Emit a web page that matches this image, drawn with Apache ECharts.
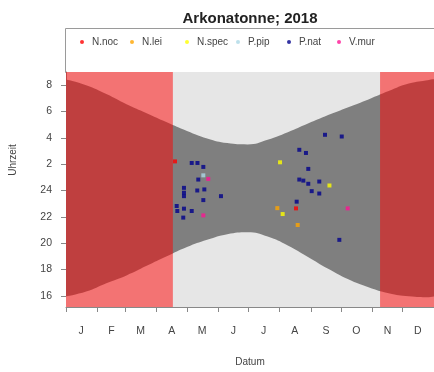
<!DOCTYPE html>
<html><head><meta charset="utf-8">
<script src="https://cdn.jsdelivr.net/npm/echarts@6/dist/echarts.min.js"></script>
<style>html,body{margin:0;padding:0;background:#fff}#c{width:434px;height:372px}</style>
</head><body><div id="c"></div>
<script>
// ---- data ----
const monthStarts = [0,31,59,90,120,151,181,212,243,273,304,334];
const monthMids = [15,45,74,105,135,166,196,227,258,288,319,349];
const monthLabels = ['J','F','M','A','M','J','J','A','S','O','N','D'];
const hourTicks = [16,18,20,22,24,26,28,30,32];
// day of year and clock time of sunset / sunrise (night band edges)
const bandDays = [0,20,40,60,80,100,120,140,160,180,200,220,240,260,280,300,320,340,360,365];
const sunset  = [15.95,16.32,16.95,17.55,18.28,19.00,19.70,20.25,20.68,20.83,20.50,19.82,18.95,18.05,17.25,16.65,16.20,15.97,15.90,15.95];
const sunrise = [8.43,8.00,7.32,6.55,5.87,5.18,4.52,3.95,3.60,3.50,3.85,4.42,5.08,5.73,6.33,6.92,7.55,8.12,8.40,8.44];
// periods without recording (red)
const offPeriods = [[0,106],[311.5,365]];
// detections: [day of year, clock time]
const nNoc  = [[108.1,2.21],[228.1,22.64]];
const nLei  = [[209.6,22.66],[229.8,21.38]];
const nSpec = [[212.3,2.14],[214.9,22.21],[261.3,0.38]];
const pPip  = [[136.2,1.15]];
const pNat  = [[124.7,2.09],[130.4,2.09],[136.2,1.79],[131.2,0.83],[117.0,0.20],[117.0,23.83],[117.0,23.57],
               [130.2,0.0],[137.2,0.08],[136.2,23.27],[153.7,23.57],[109.8,22.82],[117.0,22.62],[124.7,22.44],
               [110.4,22.44],[116.3,21.94],[256.9,4.23],[273.5,4.10],[231.4,3.09],[238.0,2.85],[240.3,1.64],
               [231.4,0.83],[235.4,0.75],[240.3,0.51],[251.2,0.68],[243.7,23.95],[251.2,23.77],[228.8,23.15],[271.1,20.25]];
const vMur  = [[141.1,0.88],[136.2,22.11],[279.4,22.64]];

const speciesNames = ['N.noc','N.lei','N.spec','P.pip','P.nat','V.mur'];
const speciesData = [nNoc,nLei,nSpec,pPip,pNat,vMur];
const speciesColors = ['#ff0000','#ffa500','#ffff00','#add8e6','#00008b','#ff1493'];
const legendX = [80,130,185,236,287,337];

// ---- chart ----
const Y_MIN = 15.15, Y_MAX = 33;
const toAxis = h => (h < 12 ? h + 24 : h);
const FONT = '"Liberation Sans", Arial, sans-serif';

const series = [];
// night band: gray area under sunrise line, then day-colored area under sunset line
series.push({type:'line', z:1, smooth:0.5, symbol:'none', silent:true,
  data: bandDays.map((d,i)=>[d, toAxis(sunrise[i])]),
  lineStyle:{width:0}, areaStyle:{color:'#7f7f7f', opacity:1, origin:'start'}});
series.push({type:'line', z:2, smooth:0.5, symbol:'none', silent:true,
  data: bandDays.map((d,i)=>[d, sunset[i]]),
  lineStyle:{width:0}, areaStyle:{color:'#e6e6e6', opacity:1, origin:'start'}});
offPeriods.forEach(p=>{
  series.push({type:'line', z:3, symbol:'none', silent:true,
    data:[[p[0],Y_MAX],[p[1],Y_MAX]],
    lineStyle:{width:0}, areaStyle:{color:'rgba(255,0,0,0.5)', opacity:1, origin:'start'}});
});
speciesNames.forEach((n,i)=>{
  series.push({type:'scatter', name:n, z:5, symbol:'rect', symbolSize:4,
    itemStyle:{color:speciesColors[i]},
    data: speciesData[i].map(p=>[p[0], toAxis(p[1])])});
});

const legends = speciesNames.map((n,i)=>({
  data:[n], left:legendX[i], top:37, padding:0, icon:'circle',
  itemWidth:10, itemHeight:4, itemGap:0, selectedMode:false,
  textStyle:{fontSize:10, color:'#444', fontFamily:FONT, padding:[0,0,0,0]}
}));

const chart = echarts.init(document.getElementById('c'), null, {renderer:'canvas'});
chart.setOption({
  animation:false,
  title:{text:'Arkonatonne; 2018', left:245, top:6, textAlign:'center',
    textStyle:{fontSize:15, fontWeight:'bold', color:'#222', fontFamily:FONT}},
  legend: legends,
  graphic:[
    {type:'rect', shape:{x:65.5,y:28.5,width:400,height:44}, style:{fill:'none', stroke:'#9a9a9a', lineWidth:1}, z:-1},
    {type:'text', x:13, y:160, rotation:Math.PI/2,
      style:{text:'Uhrzeit', fontSize:10, fill:'#444', fontFamily:FONT, align:'center', verticalAlign:'middle'}}
  ],
  grid:{left:66, right:0, top:72, bottom:64, show:true, backgroundColor:'#e6e6e6', borderWidth:0},
  xAxis:{type:'value', min:0, max:365,
    name:'Datum', nameLocation:'middle', nameGap:50,
    nameTextStyle:{fontSize:10, color:'#444', fontFamily:FONT},
    axisLine:{show:true, onZero:false, lineStyle:{color:'#888'}},
    axisTick:{show:true, length:5, customValues:monthStarts, lineStyle:{color:'#888'}},
    axisLabel:{customValues:monthMids, margin:19, fontSize:10.5, color:'#444', fontFamily:FONT,
      formatter:v=>{const i=monthMids.indexOf(v); return i>=0?monthLabels[i]:'';}},
    splitLine:{show:false}},
  yAxis:{type:'value', min:Y_MIN, max:Y_MAX,
    axisLine:{show:true, onZero:false, lineStyle:{color:'#888'}},
    axisTick:{show:true, length:5, customValues:hourTicks, lineStyle:{color:'#888'}},
    axisLabel:{customValues:hourTicks, margin:14, fontSize:10.5, color:'#444', fontFamily:FONT,
      formatter:v=>String(v>24?v-24:v)},
    splitLine:{show:false}},
  series: series
});
</script></body></html>
